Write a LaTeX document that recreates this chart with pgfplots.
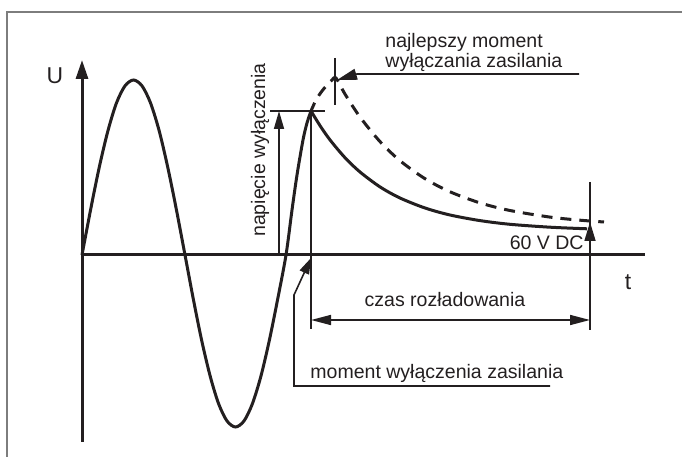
\documentclass[border=0pt]{standalone}
\usepackage{fontspec}
\setmainfont{Liberation Sans}
\usepackage{pgfplots}
\pgfplotsset{compat=1.18}
\usetikzlibrary{arrows.meta}
\definecolor{framegray}{RGB}{125,125,125}
\definecolor{ink}{RGB}{35,31,32}
\newcommand\lbl{\fontsize{9.8}{11}\selectfont}
\newcommand\biglbl{\fontsize{11.5}{13}\selectfont}
\begin{document}
\begin{tikzpicture}
\begin{axis}[scale only axis, width=341bp, height=228.5bp,
  xmin=0, xmax=682, ymin=-202, ymax=255, hide axis, clip=false]
% frame
\draw[framegray, line width=1bp] (axis cs:7,-202) -- (axis cs:7,243) -- (axis cs:682,243);
% axes
\draw[ink, line width=1.5bp, -{Triangle[length=9.5bp,width=6bp]}] (axis cs:82,-187) -- (axis cs:82,195);
\draw[ink, line width=1.5bp] (axis cs:82,0) -- (axis cs:645,0);
\node[ink, font=\biglbl, inner sep=0] at (axis cs:55,179) {U};
\node[ink, font=\biglbl, inner sep=0] at (axis cs:628,-27) {t};
% sine (solid)
\addplot[ink, line width=1.5bp, smooth, tension=0.5] coordinates {
 (82,0) (90.6,45.3) (99.2,87.5) (107.8,123.7) (116.3,151.6) (124.9,169.0) (133.5,175)
 (142.1,169.0) (150.7,151.6) (159.3,123.7) (167.8,87.5) (176.4,45.3) (185,0)
 (193.4,-44.5) (201.8,-86) (210.3,-121.6) (218.7,-149) (227.1,-166.1) (235.5,-172)
 (243.9,-166.1) (252.3,-149) (260.8,-121.6) (269.2,-86) (277.6,-44.5) (286,0)
 (292,45) (297,80) (303,115) (307,132) (311,144)};
% decay (solid)
\addplot[ink, line width=1.5bp, smooth, tension=0.5] coordinates {
 (311,144) (320,129.4) (330,115.1) (345,97.3) (360,83.0) (380,68.1) (400,57.0)
 (425,47.0) (450,40.0) (480,34.4) (510,30.7) (550,27.8) (587,26.2)};
% continuation (dashed)
\addplot[ink, line width=1.5bp, smooth, tension=0.5, dash pattern=on 5.5bp off 4bp, dash phase=1bp] coordinates {
 (311,144) (316,155) (322,164) (328,171) (332,175) (336,177) (345,160.9) (360,138)
 (380,113.4) (400,94.3) (425,76.3) (450,63.2) (480,52.1) (510,44.5) (550,37.9)
 (580,34.8) (604,33.0)};
% switch-off voltage
\draw[ink, line width=0.8bp] (axis cs:270,144) -- (axis cs:325,144);
\draw[ink, line width=0.8bp, -{Triangle[length=9bp,width=5bp]}] (axis cs:279,0) -- (axis cs:279,144);
\node[ink, font=\lbl, inner sep=0, rotate=90] at (axis cs:260,105) {napięcie wyłączenia};
% switch-off moment verticals
\draw[ink, line width=0.8bp] (axis cs:311,144) -- (axis cs:311,-74);
\draw[ink, line width=0.8bp] (axis cs:335,197) -- (axis cs:335,150);
\draw[ink, line width=0.8bp] (axis cs:590,73) -- (axis cs:590,-75);
\draw[ink, line width=0.8bp, -{Triangle[length=9.5bp,width=5.5bp]}] (axis cs:590,0) -- (axis cs:590,33);
\node[ink, font=\lbl, inner sep=0, anchor=east] at (axis cs:584,12) {60 V DC};
% discharge time
\draw[ink, line width=0.8bp, {Triangle[length=10bp,width=5bp]}-{Triangle[length=10bp,width=5bp]}] (axis cs:311,-65) -- (axis cs:590,-65);
\node[ink, font=\lbl, inner sep=0] at (axis cs:445,-45) {czas rozładowania};
% moment label
\draw[ink, line width=0.8bp, -{Triangle[length=8bp,width=5bp]}] (axis cs:550,-131) -- (axis cs:294,-131) -- (axis cs:294,-40) -- (axis cs:311,-3);
\node[ink, font=\lbl, inner sep=0, anchor=base west] at (axis cs:310,-124) {moment wyłączenia zasilania};
% best moment label
\draw[ink, line width=0.8bp, -{Triangle[length=10bp,width=5.5bp]}] (axis cs:579,181) -- (axis cs:357,181) -- (axis cs:337,175);
\node[ink, font=\lbl, inner sep=0, anchor=base west] at (axis cs:385,207) {najlepszy moment};
\node[ink, font=\lbl, inner sep=0, anchor=base west] at (axis cs:385,187) {wyłączania zasilania};
\end{axis}
\pgfresetboundingbox
\path[use as bounding box] (current axis.south west) rectangle (current axis.north east);
\end{tikzpicture}
\end{document}
